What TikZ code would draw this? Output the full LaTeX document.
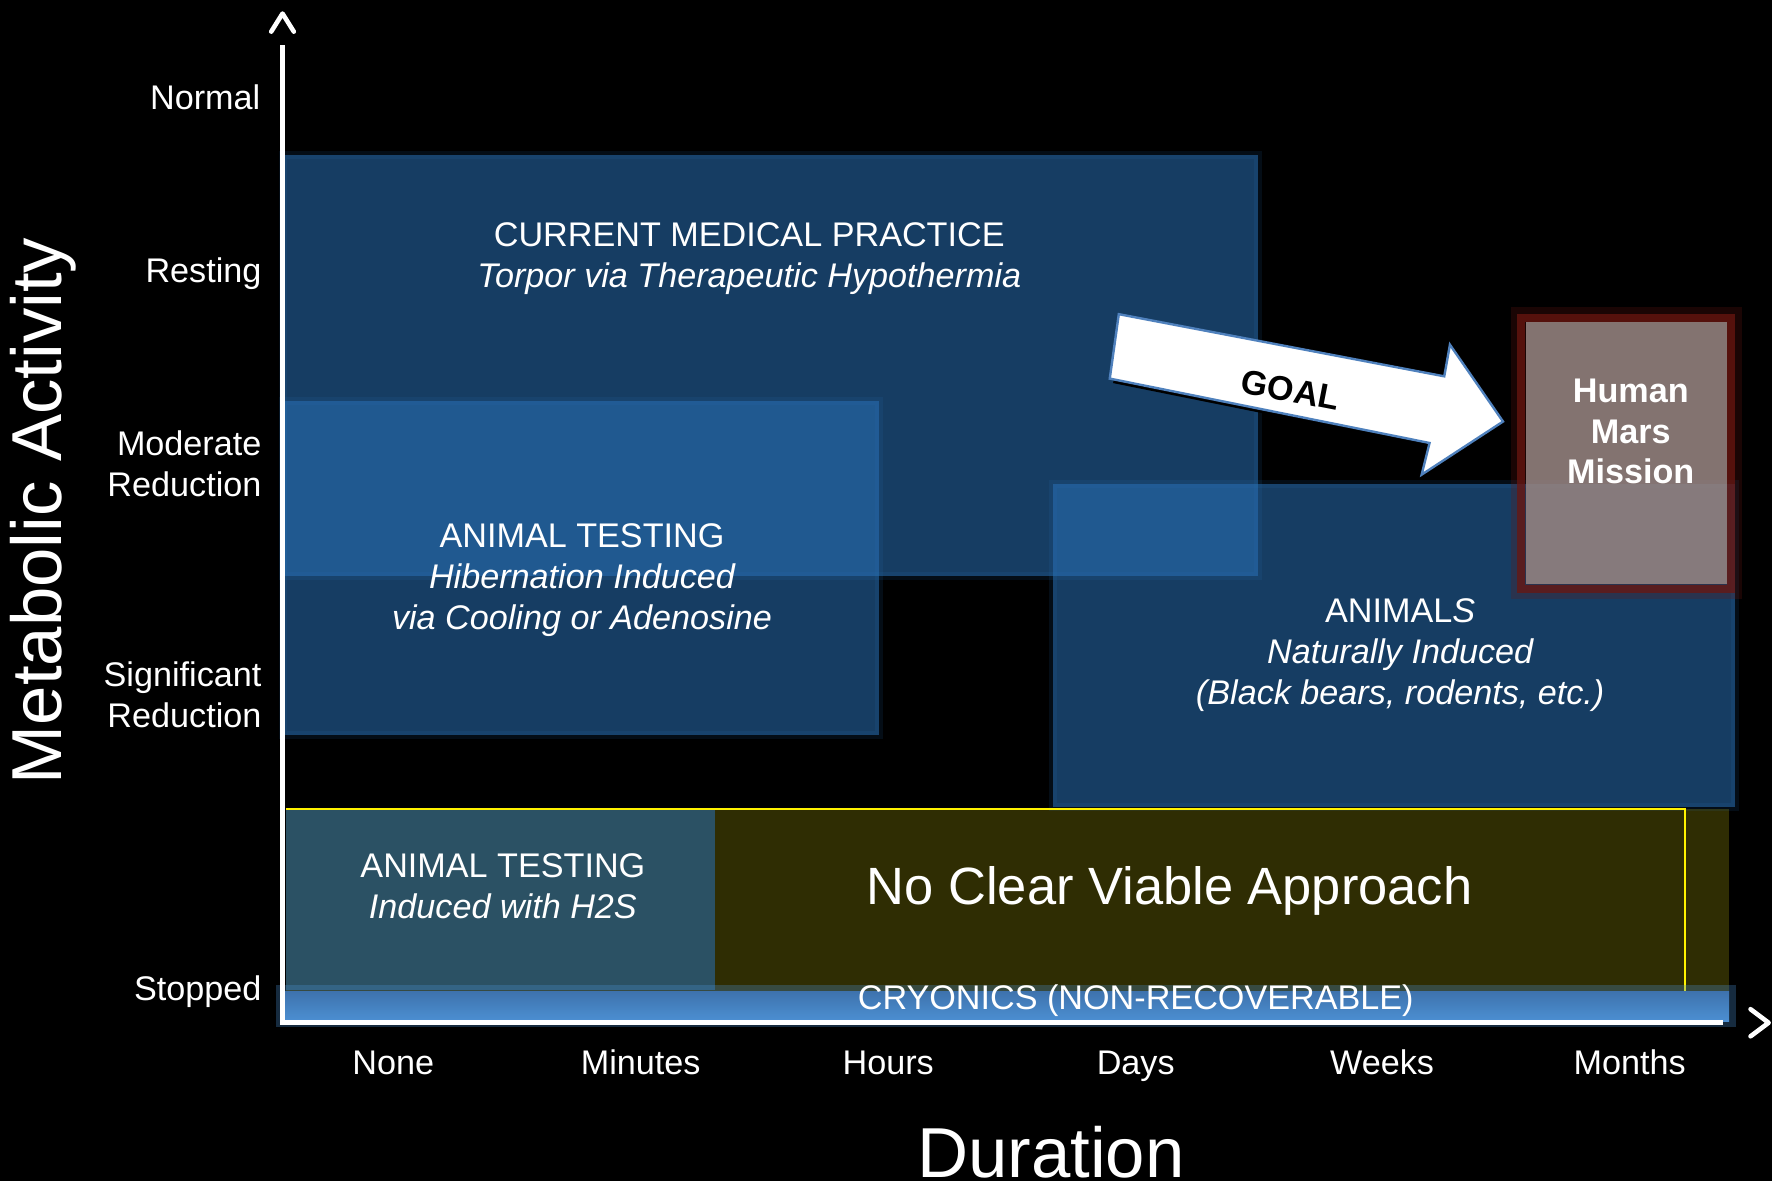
\documentclass[tikz,border=0pt]{standalone}
\usepackage{fontspec}
\setmainfont{Liberation Sans}
\definecolor{boxblue}{RGB}{41,113,183}
\definecolor{olive}{RGB}{47,45,3}
\definecolor{marsfill}{RGB}{150,131,128}
\definecolor{marsglow}{RGB}{105,22,16}
\definecolor{arrowedge}{RGB}{79,129,189}
\definecolor{cryotop}{RGB}{62,114,173}
\definecolor{cryobot}{RGB}{76,144,211}
\begin{document}
\begin{tikzpicture}[x=0.01cm,y=-0.01cm,
  lbl/.style={text=white,font=\fontsize{8.6}{10.3}\selectfont,inner sep=0,align=center},
  ylbl/.style={lbl,anchor=base east,align=right},
  xlbl/.style={lbl,anchor=base},
  big/.style={text=white,font=\fontsize{17.8}{20}\selectfont,inner sep=0},
  region/.style={fill=boxblue,fill opacity=0.54},
  soft/.style={draw=boxblue,draw opacity=0.12,line width=2pt},
  axis/.style={white,line width=1.15pt},
  chev/.style={white,line width=1.15pt,line cap=round,line join=round}]
\fill[black] (0,0) rectangle (1568,1045);
\useasboundingbox (0,0) rectangle (1568,1045);

% bottom olive region
\fill[olive] (253,716) rectangle (1530,880);
% translucent blue regions
\path[soft] (250,137) rectangle (1113,510);
\path[soft] (250,355) rectangle (778,650);
\path[soft] (932,428) rectangle (1535,714);
\fill[region] (250,137) rectangle (1113,510);
\fill[region] (250,355) rectangle (778,650);
\fill[region] (932,428) rectangle (1535,714);
\fill[region] (253,716) rectangle (633,876);
% yellow border
\draw[yellow,line width=0.5pt] (253,716) -- (1491,716) -- (1491,880);

% cryonics bar
\fill[cryobot,opacity=0.3] (244,872) rectangle (1536,909);
\shade[top color=cryotop,bottom color=cryobot] (250,877) rectangle (1530,904);
\node[lbl,anchor=base] (cryo) at (1005,893) {CRYONICS (NON-RECOVERABLE)};

% axes
\coordinate (origin) at (250,905);
\coordinate (ytop) at (250,40);
\coordinate (xend) at (1525,905);
\draw[axis] (ytop) -- (origin) -- (xend);
\draw[chev] (240,28) -- (250,12) -- (260,28);
\draw[chev] (1549,893) -- (1565,905) -- (1549,917);

% Mars box
\draw[marsglow,opacity=0.25,line width=4pt] (1344,279) rectangle (1534,523);
\draw[marsglow,opacity=0.75,line width=2pt] (1346,281) rectangle (1532,521);
\fill[marsfill,fill opacity=0.88] (1350,285) rectangle (1528,517);
\node[lbl,font=\fontsize{8.6}{10.2}\bfseries] (mars) at (1443,382) {Human\\Mars\\Mission};

% GOAL arrow
\fill[black] (993,282) -- (1281,337) -- (1286,309) -- (1333,377) -- (1261,424) -- (1268,396) -- (985,339) -- cycle;
\filldraw[fill=white,draw=arrowedge,line width=0.6pt] (990,278) -- (1278,333) -- (1283,305) -- (1330,373) -- (1258,420) -- (1265,392) -- (982,335) -- cycle;
\node[lbl,text=black,font=\fontsize{8.6}{10.3}\bfseries,rotate=-11] (goal) at (1142,345) {GOAL};

% box texts
\node[lbl] (cmp) at (663,229) {CURRENT MEDICAL PRACTICE\\\itshape Torpor via Therapeutic Hypothermia};
\node[lbl] (at1) at (515,513) {ANIMAL TESTING\\\itshape Hibernation Induced\\\itshape via Cooling or Adenosine};
\node[lbl] (ani) at (1239,580) {ANIMAL\textit{S}\\\itshape Naturally Induced\\\itshape (Black bears, rodents, etc.)};
\node[lbl] (at2) at (445,784) {ANIMAL TESTING\\\itshape Induced with H2S};
\node[lbl,font=\fontsize{13.2}{15}\selectfont,anchor=base] (ncva) at (1035,800) {No Clear Viable Approach};

% y labels
\node[ylbl] (ynormal) at (231,97) {Normal};
\node[ylbl] (yrest) at (232,250) {Resting};
\node[ylbl] (ymod) at (232,439) {Moderate\\Reduction};
\node[ylbl] (ysig) at (232,644) {Significant\\Reduction};
\node[ylbl] (ystop) at (232,885) {Stopped};

% x labels
\node[xlbl] (xnone) at (348,951) {None};
\node[xlbl] (xmin) at (567,951) {Minutes};
\node[xlbl] (xhour) at (786,951) {Hours};
\node[xlbl] (xday) at (1005,951) {Days};
\node[xlbl] (xweek) at (1223,951) {Weeks};
\node[xlbl] (xmonth) at (1442,951) {Months};

% axis titles
\node[big] (dur) at (930,1020) {Duration};
\node[big,rotate=90] (met) at (38,452) {Metabolic Activity};
\end{tikzpicture}
\end{document}
